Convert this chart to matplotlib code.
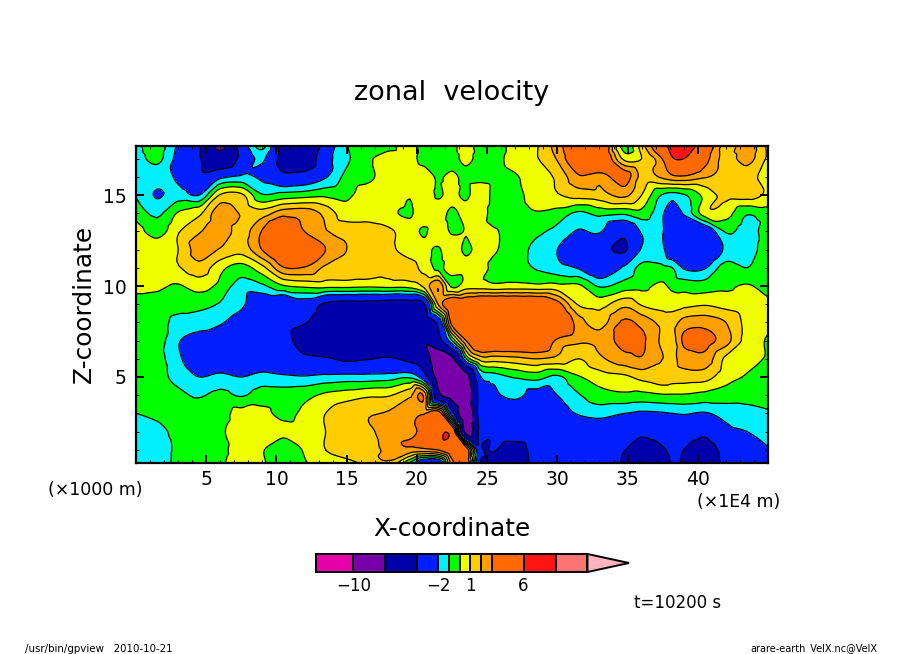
import numpy as np
import matplotlib
matplotlib.use("Agg")
import matplotlib.pyplot as plt
import matplotlib.tri as mtri
from matplotlib.patches import Polygon
from matplotlib.ticker import MultipleLocator

W, H = 904, 654

x_km = [0, 1.5, 3, 4.5, 6, 7.5, 9, 10.5, 12, 13.5, 15, 16.5, 18, 19.5, 20.5, 21.5, 22.5, 23.5, 24.5, 25.5,
        27, 28.5, 30, 31.5, 33, 34.8, 36, 37.5, 38.2, 39, 40.5, 42, 43.5, 45]
z_km = [17.7, 17, 16, 15, 14, 13, 12, 11, 10, 9, 8, 7, 6, 5, 4, 3, 2, 1, 0.27]
x_ticks = [5, 10, 15, 20, 25, 30, 35, 40]

r177 = [-1.3,-0.5,-2.2,-3.8,-7.4,-3,-0.7,-5,-6,-3,-1.1,-0.5,-0.3,0.5,-0.5,-0.5,-0.3,0.5,-0.5,-0.5,0.4,0.9,2.5,4.5,5,-0.5,1.5,5,7,7.5,4.5,1.6,2.6,0.8]
r170 = [-1.5,-0.7,-2.4,-3.8,-6,-3.5,-1.8,-4.8,-5.5,-2.6,-1.2,-0.2,0.5,0.3,-0.3,-0.3,-0.4,0.3,-0.4,-0.3,0.4,0.9,2.1,4.5,5,0.7,1,3.1,5.8,6,3.5,1.6,2.4,0.8]
r160 = [-1.5,-1.6,-2.2,-3.5,-2.3,-1.8,-2.3,-3.5,-3.2,-2.1,-0.7,-0.2,0.4,0.6,0.5,-0.1,0.2,-0.3,-0.3,-0.3,-0.1,0.6,1.2,2.8,2.4,3.6,1.7,2.2,2.7,2.8,2.1,1.5,1.4,0.5]
r150 = [-1.05,-2.1,-1.5,-2,1.1,1.2,-0.9,-0.6,-0.4,-0.2,-0.2,0.5,0.6,0.05,0.6,-0.1,0.3,-0.2,0.7,-0.3,-0.3,0.5,0.9,1.4,1.6,2.2,1,-1.1,-1.4,-1.1,0.3,1.3,1.4,0.8]
r140 = [-0.4,-1.2,0.1,0.8,2.6,1.9,1.5,2.6,2.6,1.7,0.4,0.5,0.2,-0.1,0.5,0.5,-0.2,0.4,0.6,-0.5,-0.4,-0.1,-0.4,-1.2,-0.7,-0.8,-0.4,-1.9,-2.8,-1.9,0.5,0.4,-0.9,-0.5]
r130 = [0.5,-0.5,0.9,1.9,2.6,1.6,3.1,5,3,2.1,1.7,1.6,1.2,0.4,-0.1,0.5,-0.1,0.05,0.4,0.1,-0.4,-0.8,-1.3,-2.1,-1.9,-3.5,-1.9,-1.95,-3,-3.2,-3.2,-0.9,-1.4,-0.5]
r120 = [0.3,0.7,1,2.5,1.9,1.4,3.05,4.8,5,3,2,1.6,1.2,0.6,0.3,-0.1,0.6,-0.2,0.4,0.1,-0.5,-1.3,-2,-3,-3.4,-4.2,-1.9,-1.8,-3.2,-3.3,-3.6,-1.8,-1.5,-0.4]
r110 = [0.4,0.6,0.9,1.6,0.3,-0.4,0.7,2.9,2.9,1.8,1.6,1.5,1.2,1.3,0.7,-0.2,0.5,0.4,0.3,-0.2,-0.4,-1.1,-1.6,-2.1,-3.2,-1.8,-0.7,-0.8,-1,-2.1,-2.1,-0.5,-1,-0.3]
r100 = [0.3,0.2,-0.1,0.4,-0.3,-1.5,-1.2,-0.1,0.2,0.3,0.3,0.2,0.3,0.4,1.2,2.9,-0.2,0.5,0.5,0.3,0.4,0.3,0.3,0.2,-1.1,-0.5,-0.3,0.2,-0.3,-0.4,-0.5,-0.2,0.1,-0.4]
r090 = [-0.4,-0.5,-0.6,-0.7,-1.1,-1.8,-3,-3.8,-2.8,-4.3,-4.7,-4.7,-5,-5,-4.3,2,4.5,4.5,5,5,5,4.8,3.5,0.9,0.6,1.7,0.9,0.6,0.6,0.7,0.9,0.6,0.4,0.2]
r080 = [-0.3,-0.6,-1.3,-1.5,-1.9,-2.5,-3,-3.4,-3.9,-5,-5.8,-6,-6,-6.8,-5.8,-3.5,3.5,4.5,5,5,5,5,5,2.5,1.6,3.2,2.7,1.7,1.6,2.4,2.6,2,0.7,0.3]
r070 = [-0.3,-0.5,-1.9,-2.5,-2.6,-2.7,-2.9,-3.3,-5,-5.6,-6,-6,-6,-5.8,-6.8,-5,-1,3,5,4.8,4.8,4.7,2.8,2.2,2.3,3.4,3.2,1.8,1.6,3.2,3.4,2.4,0.6,-0.1]
r060 = [-0.3,-0.6,-1.8,-2.8,-3,-3.1,-3,-3.3,-3.6,-3.8,-4.3,-4.1,-3.8,-4.5,-5.5,-8.5,-7.5,-1,1.4,1.5,1.7,2,1.7,1,1.8,2.6,2.9,2,1.8,2.4,2.6,0.8,0.3,-0.1]
r050 = [-0.4,-0.7,-1.3,-2,-1.7,-2,-1.6,-1.8,-1.9,-1.7,-1.6,-1.6,-1.5,-1.2,-3,-8,-9.5,-8,-2.2,-1.5,-0.9,-0.6,-1.2,-0.1,0.5,0.8,1.3,1.7,1.5,1.5,1.4,0.4,-0.1,-0.5]
r040 = [-0.5,-0.6,-0.8,-1.1,-0.7,-1.1,-0.5,-0.5,-0.3,0.2,0.5,0.8,0.9,1.8,2.8,-6,-8.5,-9,-3.2,-2.3,-1.7,-2.5,-2,-1.1,-0.4,-0.2,-0.3,-0.1,-0.1,-0.1,-0.3,-0.5,-0.7,-0.8]
r030 = [-1,-0.8,-0.6,-0.4,-0.3,0.3,0.2,-0.2,0.2,1,1.6,1.9,2.1,2.6,2.9,4,-3,-9.8,-3,-3,-3,-3,-2.6,-1.9,-1.6,-2,-2.2,-2.1,-2,-1.9,-2.1,-1.6,-1.3,-1.1]
r020 = [-1.5,-1.3,-0.7,-0.5,-0.1,0.3,0.4,0.2,0.3,1,1.5,1.9,2.2,2.7,3.5,5.5,4.8,-8,-3.5,-3.3,-3.2,-3.2,-3.2,-3.1,-3,-3.3,-3.6,-3.2,-3.4,-3.1,-3.6,-2.4,-2,-1.6]
r010 = [-1.7,-1.5,-0.8,-0.4,-0.2,0.3,0.05,-0.6,0.1,1,1.4,1.7,2.2,2.7,2.7,3.1,4.5,4,-3.5,-3.9,-4.6,-3.5,-3.3,-3.3,-3.3,-3.95,-5,-4.2,-3.6,-4,-4.8,-3.4,-2.8,-2.1]
r003 = [-1.8,-1.4,-0.8,-0.4,-0.1,0.3,0.1,-0.6,-0.1,0.5,0.8,1.2,1.8,-1.2,-3.8,-3.8,2.5,4,-4,-4.7,-5.5,-3.5,-3.3,-3.4,-3.5,-4.3,-6.5,-5,-3.8,-4.2,-5.5,-3.6,-3.2,-2.6]

levels = [-13.5, -10, -7, -4, -2, -1, 0, 1, 2, 3, 6, 9, 12]
colors = ["#e600aa", "#7800aa", "#0000aa", "#001eff", "#00f0ff", "#00ff00",
          "#f0ff00", "#ffcd00", "#ffa000", "#ff6900", "#ff1414", "#ff7373"]
over_color = "#ffb4be"
cbar_labels = {-10: "\u221210", -2: "\u22122", 1: "1", 6: "6"}

U = np.array([r177, r170, r160, r150, r140, r130, r120, r110, r100, r090,
              r080, r070, r060, r050, r040, r030, r020, r010, r003])

fig = plt.figure(figsize=(W / 100, H / 100), dpi=100, facecolor="white")


def px_axes(l, t, r, b):
    return fig.add_axes([l / W, 1 - b / H, (r - l) / W, (b - t) / H])


ax = px_axes(136, 146, 768, 463)
X, Z = np.meshgrid(x_km, z_km)
tri = mtri.Triangulation(X.ravel(), Z.ravel())
smooth = mtri.CubicTriInterpolator(tri, U.ravel(), kind="geom")
fine_tri, fine_u = mtri.UniformTriRefiner(tri).refine_field(U.ravel(), triinterpolator=smooth, subdiv=3)
fine_u = np.clip(fine_u, levels[0] + 0.01, levels[-1] - 0.01)
ax.tricontourf(fine_tri, fine_u, levels=levels, colors=colors)
ax.tricontour(fine_tri, fine_u, levels=levels[1:-1], colors="black", linewidths=0.9, linestyles="solid")
ax.set_xlim(0, 45)
ax.set_ylim(0.27, 17.7)
ax.set_xticks(x_ticks)
ax.xaxis.set_minor_locator(MultipleLocator(1))
ax.yaxis.set_major_locator(MultipleLocator(5))
ax.yaxis.set_minor_locator(MultipleLocator(1))
ax.tick_params(which="both", direction="in", top=True, right=True, color="black")
ax.tick_params(which="major", length=6, width=1.4, labelsize=13.5)
ax.tick_params(which="minor", length=2.5, width=0.7)
ax.tick_params(axis="x", which="major", pad=5)
ax.tick_params(axis="y", which="major", pad=7)
for s in ax.spines.values():
    s.set_linewidth(1.6)
ax.set_axisbelow(False)


def px_text(x, y, s, **kw):
    kw.setdefault("ha", "center")
    kw.setdefault("va", "center")
    fig.text(x / W, 1 - y / H, s, **kw)


px_text(452, 93, "zonal  velocity", fontsize=19.5)
px_text(452, 529, "X-coordinate", fontsize=17.8)
px_text(84, 304, "Z-coordinate", fontsize=17.8, rotation=90)
px_text(95, 490, "(\u00d71000 m)", fontsize=12.5)
px_text(739, 502, "(\u00d71E4 m)", fontsize=12.4)
px_text(678, 603, "t=10200 s", fontsize=12)
px_text(25, 649, "/usr/bin/gpview   2010-10-21", fontsize=7.4, ha="left")
px_text(877, 649, "arare-earth_VelX.nc@VelX", fontsize=7, ha="right")

cax = px_axes(316, 554, 629, 572)
cax.set_xlim(levels[0], levels[-1] + 3.9)
cax.set_ylim(0, 1)
cax.axis("off")
for lo, hi, c in zip(levels[:-1], levels[1:], colors):
    cax.barh(0.5, hi - lo, left=lo, height=1, color=c, edgecolor="black", linewidth=1.4, clip_on=False)
cax.add_patch(Polygon([(levels[-1], 0), (levels[-1] + 3.9, 0.5), (levels[-1], 1)], closed=True,
                      facecolor=over_color, edgecolor="black", linewidth=1.4, clip_on=False))
for v, s in cbar_labels.items():
    cax.text(v, -0.78, s, ha="center", va="center", fontsize=12)

fig.savefig("out.png", dpi=100)
